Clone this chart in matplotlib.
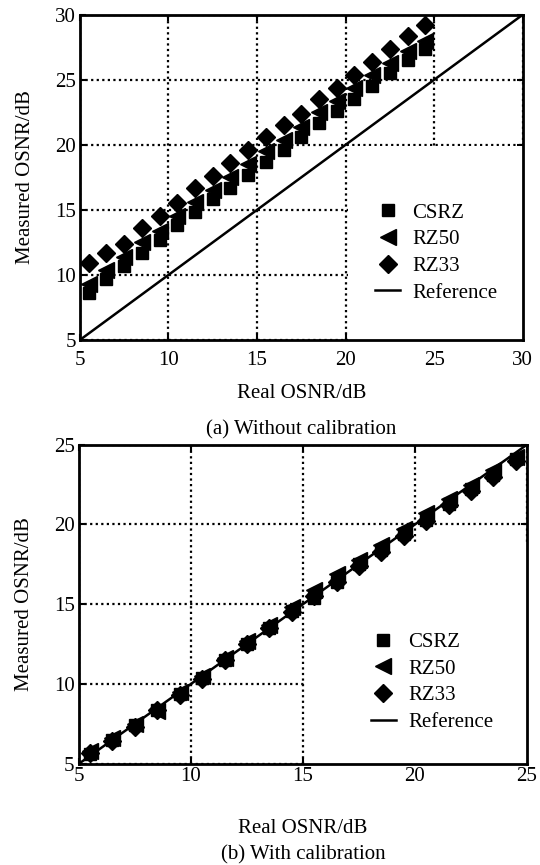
import numpy as np
import matplotlib
matplotlib.use("Agg")
import matplotlib.pyplot as plt
from matplotlib.patches import Rectangle

plt.rcParams['font.family'] = ['Liberation Serif', 'DejaVu Serif']
plt.rcParams['font.size'] = 15

# (a) without calibration
real_a = [5.5, 6.5, 7.5, 8.5, 9.5, 10.5, 11.5, 12.5, 13.5, 14.5,
          15.5, 16.5, 17.5, 18.5, 19.5, 20.5, 21.5, 22.5, 23.5, 24.5]
csrz_a = [8.6, 9.7, 10.7, 11.7, 12.7, 13.8, 14.8, 15.8, 16.7, 17.7,
          18.7, 19.6, 20.6, 21.7, 22.6, 23.5, 24.5, 25.5, 26.5, 27.4]
rz50_a = [9.3, 10.4, 11.4, 12.5, 13.4, 14.5, 15.6, 16.5, 17.5, 18.5,
          19.5, 20.4, 21.4, 22.5, 23.4, 24.4, 25.4, 26.3, 27.2, 28.0]
rz33_a = [10.9, 11.7, 12.4, 13.6, 14.5, 15.5, 16.7, 17.6, 18.6, 19.6,
          20.6, 21.5, 22.4, 23.5, 24.4, 25.4, 26.4, 27.4, 28.4, 29.2]

# (b) with calibration
real_b = [5.5, 6.5, 7.5, 8.5, 9.5, 10.5, 11.5, 12.5, 13.5, 14.5,
          15.5, 16.5, 17.5, 18.5, 19.5, 20.5, 21.5, 22.5, 23.5, 24.5]
csrz_b = [5.6, 6.5, 7.4, 8.4, 9.4, 10.4, 11.5, 12.5, 13.5, 14.6,
          15.4, 16.4, 17.5, 18.4, 19.4, 20.3, 21.3, 22.2, 23.1, 24.1]
rz50_b = [5.8, 6.6, 7.5, 8.3, 9.5, 10.5, 11.6, 12.7, 13.7, 14.8,
          15.9, 16.9, 17.8, 18.7, 19.7, 20.7, 21.6, 22.5, 23.4, 24.2]
rz33_b = [5.7, 6.4, 7.3, 8.4, 9.3, 10.3, 11.5, 12.5, 13.5, 14.5,
          15.5, 16.4, 17.4, 18.3, 19.3, 20.2, 21.2, 22.1, 23.0, 24.0]

ticks_a = [5, 10, 15, 20, 25, 30]
ticks_b = [5, 10, 15, 20, 25]


def panel(ax, real, csrz, rz50, rz33, ticks, box, leg_xy, caption, cap_y, tpad, lpad):
    lo, hi = ticks[0], ticks[-1]
    ax.set_axisbelow(True)
    ax.grid(True, color='black', linestyle=(0, (1, 1.5)), linewidth=1.6)
    # white area behind the legend hides part of the grid
    ax.add_patch(Rectangle((box[0], box[1]), box[2], box[3], facecolor='white',
                           edgecolor='none', zorder=1))
    ax.plot([lo, hi], [lo, hi], color='black', lw=1.8, zorder=2, label='Reference')
    ax.plot(real, rz50, ls='none', marker='<', ms=11, color='black', zorder=3, label='RZ50')
    ax.plot(real, rz33, ls='none', marker='D', ms=9.5, color='black', zorder=4, label='RZ33')
    ax.plot(real, csrz, ls='none', marker='s', ms=9, color='black', zorder=5, label='CSRZ')
    h, l = ax.get_legend_handles_labels()
    order = [3, 1, 2, 0]
    ax.legend([h[i] for i in order], [l[i] for i in order], loc='upper left',
              bbox_to_anchor=leg_xy, frameon=False, handlelength=1.2,
              handletextpad=0.6, labelspacing=0.34, borderpad=0)
    ax.set_xlim(lo, hi)
    ax.set_ylim(lo, hi)
    ax.set_xticks(ticks)
    ax.set_yticks(ticks)
    ax.tick_params(direction='in', top=True, right=True, length=4, width=1.5, pad=3)
    ax.tick_params(axis='x', pad=tpad)
    for s in ax.spines.values():
        s.set_linewidth(2)
    ax.set_xlabel('Real OSNR/dB', labelpad=lpad)
    ax.set_ylabel('Measured OSNR/dB', labelpad=14)
    ax.text(0.5, cap_y, caption, transform=ax.transAxes, ha='center', va='center')


fig = plt.figure(figsize=(5.4, 8.65), dpi=100)
ax1 = fig.add_axes([0.148, 0.607, 0.820, 0.376])
ax2 = fig.add_axes([0.146, 0.117, 0.830, 0.369])

panel(ax1, real_a, csrz_a, rz50_a, rz33_a, ticks_a, (20.15, 5, 9.85, 14.9),
      (0.643, 0.453), '(a) Without calibration', -0.275, 8, 10)
panel(ax2, real_b, csrz_b, rz50_b, rz33_b, ticks_b, (15.15, 5, 9.85, 13.7),
      (0.628, 0.444), '(b) With calibration', -0.285, 2, 24)

fig.savefig('out.png', dpi=100)
